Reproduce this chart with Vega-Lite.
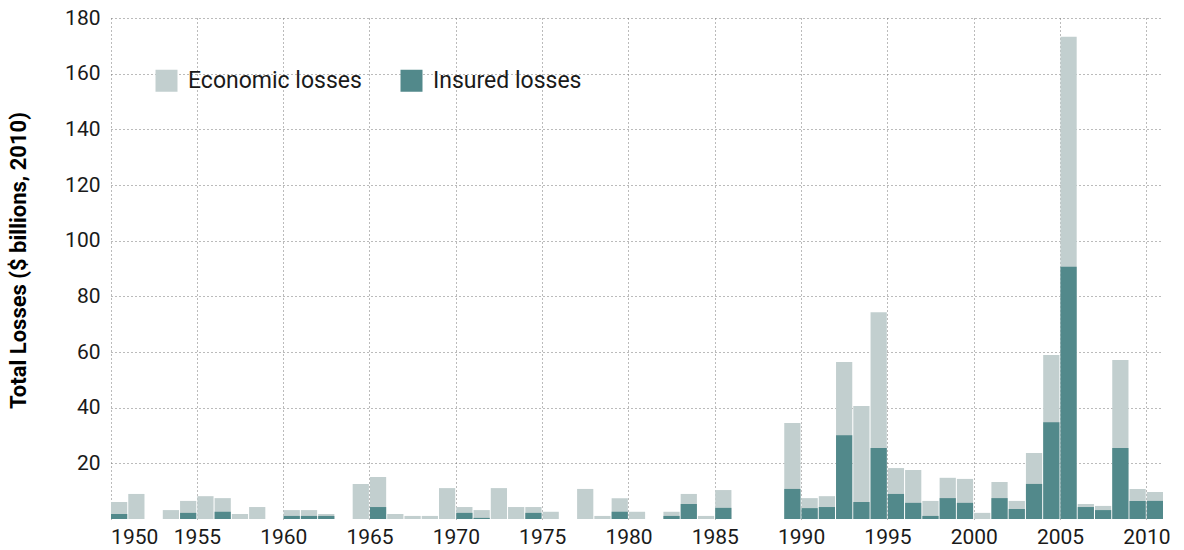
{
  "$schema": "https://vega.github.io/schema/vega-lite/v6.json",
  "width": 1052,
  "height": 501,
  "autosize": {"type": "none"},
  "padding": {"left": 111, "top": 18, "right": 21, "bottom": 31},
  "background": "white",
  "config": {
    "font": "Roboto",
    "view": {"stroke": null}
  },
  "data": {
    "values": [
      {"year": 1950, "Economic losses": 6.1, "Insured losses": 1.8},
      {"year": 1951, "Economic losses": 9.0, "Insured losses": 0},
      {"year": 1953, "Economic losses": 3.2, "Insured losses": 0},
      {"year": 1954, "Economic losses": 6.5, "Insured losses": 2.2},
      {"year": 1955, "Economic losses": 8.2, "Insured losses": 0},
      {"year": 1956, "Economic losses": 7.5, "Insured losses": 2.6},
      {"year": 1957, "Economic losses": 1.8, "Insured losses": 0},
      {"year": 1958, "Economic losses": 4.3, "Insured losses": 0},
      {"year": 1960, "Economic losses": 3.2, "Insured losses": 1.1},
      {"year": 1961, "Economic losses": 3.2, "Insured losses": 1.1},
      {"year": 1962, "Economic losses": 1.8, "Insured losses": 1.1},
      {"year": 1964, "Economic losses": 12.6, "Insured losses": 0},
      {"year": 1965, "Economic losses": 15.1, "Insured losses": 4.3},
      {"year": 1966, "Economic losses": 1.8, "Insured losses": 0},
      {"year": 1967, "Economic losses": 1.1, "Insured losses": 0},
      {"year": 1968, "Economic losses": 1.1, "Insured losses": 0},
      {"year": 1969, "Economic losses": 11.1, "Insured losses": 0},
      {"year": 1970, "Economic losses": 4.3, "Insured losses": 2.2},
      {"year": 1971, "Economic losses": 3.2, "Insured losses": 0.4},
      {"year": 1972, "Economic losses": 11.1, "Insured losses": 0},
      {"year": 1973, "Economic losses": 4.3, "Insured losses": 0},
      {"year": 1974, "Economic losses": 4.3, "Insured losses": 2.2},
      {"year": 1975, "Economic losses": 2.6, "Insured losses": 0},
      {"year": 1977, "Economic losses": 10.8, "Insured losses": 0},
      {"year": 1978, "Economic losses": 1.1, "Insured losses": 0},
      {"year": 1979, "Economic losses": 7.5, "Insured losses": 2.6},
      {"year": 1980, "Economic losses": 2.6, "Insured losses": 0},
      {"year": 1982, "Economic losses": 2.6, "Insured losses": 1.1},
      {"year": 1983, "Economic losses": 9.0, "Insured losses": 5.4},
      {"year": 1984, "Economic losses": 1.1, "Insured losses": 0},
      {"year": 1985, "Economic losses": 10.4, "Insured losses": 4.0},
      {"year": 1989, "Economic losses": 34.5, "Insured losses": 10.8},
      {"year": 1990, "Economic losses": 7.5, "Insured losses": 3.9},
      {"year": 1991, "Economic losses": 8.2, "Insured losses": 4.3},
      {"year": 1992, "Economic losses": 56.4, "Insured losses": 30.1},
      {"year": 1993, "Economic losses": 40.6, "Insured losses": 6.1},
      {"year": 1994, "Economic losses": 74.3, "Insured losses": 25.5},
      {"year": 1995, "Economic losses": 18.3, "Insured losses": 9.0},
      {"year": 1996, "Economic losses": 17.6, "Insured losses": 5.8},
      {"year": 1997, "Economic losses": 6.5, "Insured losses": 1.1},
      {"year": 1998, "Economic losses": 14.8, "Insured losses": 7.5},
      {"year": 1999, "Economic losses": 14.4, "Insured losses": 5.8},
      {"year": 2000, "Economic losses": 2.2, "Insured losses": 0},
      {"year": 2001, "Economic losses": 13.3, "Insured losses": 7.5},
      {"year": 2002, "Economic losses": 6.5, "Insured losses": 3.6},
      {"year": 2003, "Economic losses": 23.7, "Insured losses": 12.6},
      {"year": 2004, "Economic losses": 58.9, "Insured losses": 34.8},
      {"year": 2005, "Economic losses": 173.3, "Insured losses": 90.6},
      {"year": 2006, "Economic losses": 5.4, "Insured losses": 4.3},
      {"year": 2007, "Economic losses": 4.7, "Insured losses": 3.2},
      {"year": 2008, "Economic losses": 57.1, "Insured losses": 25.5},
      {"year": 2009, "Economic losses": 10.8, "Insured losses": 6.5},
      {"year": 2010, "Economic losses": 9.7, "Insured losses": 6.5}
    ]
  },
  "transform": [
    {"fold": ["Economic losses", "Insured losses"], "as": ["type", "value"]}
  ],
  "mark": {"type": "bar"},
  "encoding": {
    "x": {
      "field": "year",
      "type": "ordinal",
      "scale": {
        "domain": [1950,1951,1952,1953,1954,1955,1956,1957,1958,1959,1960,1961,1962,1963,1964,1965,1966,1967,1968,1969,1970,1971,1972,1973,1974,1975,1976,1977,1978,1979,1980,1981,1982,1983,1984,1985,1986,1987,1988,1989,1990,1991,1992,1993,1994,1995,1996,1997,1998,1999,2000,2001,2002,2003,2004,2005,2006,2007,2008,2009,2010],
        "paddingInner": 0.06,
        "paddingOuter": 0
      },
      "axis": {
        "values": [1950,1955,1960,1965,1970,1975,1980,1985,1990,1995,2000,2005,2010],
        "bandPosition": 0,
        "title": null,
        "labelAngle": 0,
        "labelFontSize": 21,
        "labelColor": "#1a1a1a",
        "labelPadding": 7,
        "labelOffset": -8,
        "labelAlign": {"condition": {"test": "datum.value == 1950", "value": "left"}, "value": "center"},
        "ticks": false,
        "domain": false,
        "grid": true,
        "gridColor": "#777777",
        "gridDash": [1, 3],
        "gridWidth": 1
      }
    },
    "y": {
      "field": "value",
      "type": "quantitative",
      "stack": null,
      "scale": {"domain": [0, 180], "nice": false},
      "axis": {
        "values": [20,40,60,80,100,120,140,160,180],
        "title": "Total Losses ($ billions, 2010)",
        "titleFontSize": 22,
        "titleFontWeight": "bold",
        "titleColor": "#000000",
        "titleX": -93,
        "titleY": 242,
        "titleAngle": -90,
        "titleAlign": "center",
        "titleBaseline": "middle",
        "labelFontSize": 21,
        "labelColor": "#1a1a1a",
        "labelPadding": 11,
        "ticks": false,
        "domain": false,
        "grid": true,
        "gridColor": "#777777",
        "gridDash": [1, 3],
        "gridWidth": 1
      }
    },
    "color": {
      "field": "type",
      "type": "nominal",
      "scale": {"domain": ["Economic losses", "Insured losses"], "range": ["#c2cfcf", "#52898b"]},
      "legend": {
        "title": null,
        "orient": "none",
        "legendX": 44,
        "legendY": 51,
        "direction": "horizontal",
        "symbolType": "square",
        "symbolSize": 484,
        "symbolStrokeWidth": 0,
        "labelFontSize": 23,
        "labelLimit": 400,
        "labelColor": "#1a1a1a",
        "labelOffset": 10,
        "columnPadding": 38,
        "padding": 0
      }
    }
  }
}
